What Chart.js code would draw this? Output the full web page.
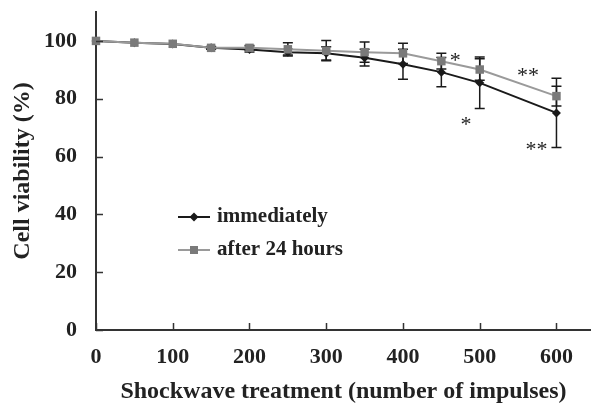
<!DOCTYPE html>
<html>
<head>
<meta charset="utf-8">
<script src="https://cdn.jsdelivr.net/npm/chart.js@4/dist/chart.umd.min.js"></script>
<style>
  html, body { margin: 0; padding: 0; background: #ffffff; }
  #c { display: block; }
</style>
</head>
<body>
<canvas id="c" width="591" height="405"></canvas>
<script>
// ---- data ----
const impulses      = [0, 50, 100, 150, 200, 250, 300, 350, 400, 450, 500, 600];
const immediately   = [100, 99.4, 98.9, 97.6, 97.0, 96.1, 95.7, 94.2, 91.9, 89.2, 85.5, 75.1];
const immediatelySD = [0, 0, 0, 0.5, 0.8, 1.0, 2.3, 2.9, 5.2, 5.1, 8.9, 12.0];
const after24       = [100, 99.4, 99.0, 97.6, 97.6, 97.1, 96.6, 96.1, 95.7, 93.0, 90.1, 80.9];
const after24SD     = [0, 0, 0, 0.4, 0.8, 2.3, 3.5, 3.5, 3.5, 2.7, 3.7, 3.4];
const xTicks        = [0, 100, 200, 300, 400, 500, 600];
const yTicks        = [0, 20, 40, 60, 80, 100];
const seriesNames   = ['immediately', 'after 24 hours'];
// significance marks (text, x in impulses, y in %)
const starText = ['*', '*', '**', '**'];
const starX    = [468, 482, 563, 574];
const starY    = [94.3, 72.1, 89.3, 63.5];

const FONT = "'Liberation Serif', 'Times New Roman', serif";
const AXIS = '#333333';
const BLACK = '#1a1a1a';
const GRAYLINE = '#9a9a9a';
const GRAYPT = '#7a7a7a';

const toXY = (xs, ys) => xs.map((x, i) => ({ x: x, y: ys[i] }));

const extras = {
  id: 'extras',
  beforeDatasetsDraw(chart) {
    const ctx = chart.ctx, xs = chart.scales.x, ys = chart.scales.y;
    ctx.save();
    ctx.strokeStyle = BLACK;
    ctx.lineWidth = 1.5;
    const drawBars = (vals, sds) => {
      impulses.forEach((imp, i) => {
        if (!sds[i]) return;
        const px = xs.getPixelForValue(imp);
        const top = ys.getPixelForValue(vals[i] + sds[i]);
        const bot = ys.getPixelForValue(vals[i] - sds[i]);
        ctx.beginPath();
        ctx.moveTo(px, top); ctx.lineTo(px, bot);
        ctx.moveTo(px - 5, top); ctx.lineTo(px + 5, top);
        ctx.moveTo(px - 5, bot); ctx.lineTo(px + 5, bot);
        ctx.stroke();
      });
    };
    drawBars(immediately, immediatelySD);
    drawBars(after24, after24SD);
    ctx.restore();
  },
  afterDraw(chart) {
    const ctx = chart.ctx, xs = chart.scales.x, ys = chart.scales.y;
    const area = chart.chartArea;
    ctx.save();
    // inward tick marks
    ctx.strokeStyle = AXIS;
    ctx.lineWidth = 1.5;
    ctx.beginPath();
    xTicks.forEach(v => {
      const px = Math.round(xs.getPixelForValue(v)) + 0.5;
      ctx.moveTo(px, area.bottom); ctx.lineTo(px, area.bottom - 7);
    });
    yTicks.forEach(v => {
      const py = Math.round(ys.getPixelForValue(v)) + 0.5;
      ctx.moveTo(area.left, py); ctx.lineTo(area.left + 7, py);
    });
    ctx.stroke();

    // significance stars
    ctx.fillStyle = '#222';
    ctx.font = '22px ' + FONT;
    ctx.textAlign = 'center';
    ctx.textBaseline = 'middle';
    starText.forEach((t, i) => {
      ctx.fillText(t, xs.getPixelForValue(starX[i]), ys.getPixelForValue(starY[i]) + 4);
    });

    // legend
    const lx0 = area.left + 82, lx1 = area.left + 114, tx = area.left + 121;
    const r1 = area.top + 205, r2 = area.top + 238;
    ctx.lineWidth = 2;
    ctx.strokeStyle = BLACK;
    ctx.beginPath(); ctx.moveTo(lx0, r1); ctx.lineTo(lx1, r1); ctx.stroke();
    const cx = (lx0 + lx1) / 2;
    ctx.fillStyle = BLACK;
    ctx.beginPath();
    ctx.moveTo(cx - 4.5, r1); ctx.lineTo(cx, r1 - 4.5); ctx.lineTo(cx + 4.5, r1); ctx.lineTo(cx, r1 + 4.5);
    ctx.closePath(); ctx.fill();
    ctx.strokeStyle = GRAYLINE;
    ctx.beginPath(); ctx.moveTo(lx0, r2); ctx.lineTo(lx1, r2); ctx.stroke();
    ctx.fillStyle = GRAYPT;
    ctx.fillRect(cx - 4, r2 - 4, 8, 8);

    ctx.fillStyle = '#222';
    ctx.font = 'bold 21px ' + FONT;
    ctx.textAlign = 'left';
    ctx.textBaseline = 'middle';
    ctx.fillText(seriesNames[0], tx, r1);
    ctx.fillText(seriesNames[1], tx, r2);
    ctx.restore();
  }
};

new Chart(document.getElementById('c'), {
  type: 'line',
  data: {
    datasets: [
      {
        label: seriesNames[0],
        data: toXY(impulses, immediately),
        borderColor: BLACK,
        backgroundColor: BLACK,
        borderWidth: 2,
        pointStyle: 'rectRot',
        pointRadius: 4.5,
        pointBorderWidth: 0,
        tension: 0,
        clip: false,
        order: 1
      },
      {
        label: seriesNames[1],
        data: toXY(impulses, after24),
        borderColor: GRAYLINE,
        backgroundColor: GRAYPT,
        pointBackgroundColor: GRAYPT,
        borderWidth: 2,
        pointStyle: 'rect',
        pointRadius: 6,
        pointBorderWidth: 0,
        tension: 0,
        clip: false,
        order: 0
      }
    ]
  },
  options: {
    responsive: false,
    animation: false,
    devicePixelRatio: 1,
    layout: { autoPadding: false, padding: { top: 12, right: 0, left: 0, bottom: 0 } },
    plugins: { legend: { display: false }, tooltip: { enabled: false } },
    scales: {
      x: {
        type: 'linear',
        position: 'bottom',
        min: 0,
        max: 645,
        afterBuildTicks: s => { s.ticks = xTicks.map(v => ({ value: v })); },
        afterFit: s => { s.height = 75; s.paddingLeft = 0; s.paddingRight = 0; },
        grid: { display: false, drawTicks: false },
        border: { display: true, color: AXIS, width: 2 },
        ticks: {
          padding: 14,
          maxRotation: 0,
          color: '#222',
          font: { family: FONT, size: 22, weight: 'bold' }
        },
        title: {
          display: true,
          text: 'Shockwave treatment (number of impulses)',
          color: '#222',
          font: { family: FONT, size: 24, weight: 'bold' },
          padding: { top: 0, bottom: -1 }
        }
      },
      y: {
        type: 'linear',
        min: 0,
        max: 110,
        afterBuildTicks: s => { s.ticks = yTicks.map(v => ({ value: v })); },
        afterFit: s => { s.width = 96; s.paddingTop = 0; s.paddingBottom = 0; },
        grid: { display: false, drawTicks: false },
        border: { display: true, color: AXIS, width: 2 },
        ticks: {
          padding: 19,
          color: '#222',
          font: { family: FONT, size: 22, weight: 'bold' }
        },
        title: {
          display: true,
          text: 'Cell viability (%)',
          color: '#222',
          font: { family: FONT, size: 24, weight: 'bold' },
          padding: { top: 8, bottom: 0 }
        }
      }
    }
  },
  plugins: [extras]
});
</script>
</body>
</html>
